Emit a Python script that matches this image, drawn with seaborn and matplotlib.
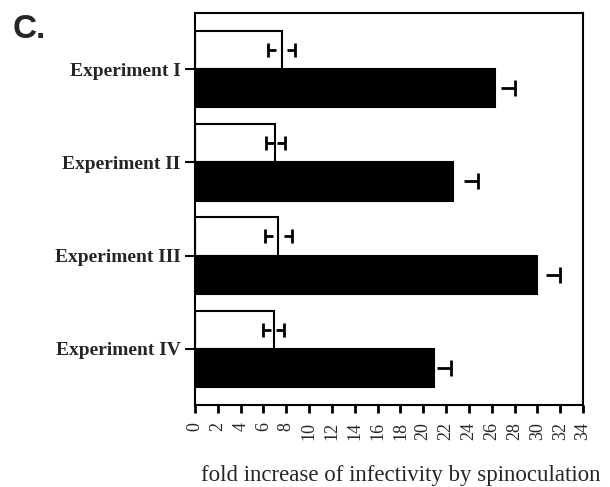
import numpy as np
import pandas as pd
import matplotlib.pyplot as plt
import seaborn as sns

experiments = ['Experiment I', 'Experiment II', 'Experiment III', 'Experiment IV']
conditions = ['control', 'spinoculation']
control = [7.6, 7.05, 7.3, 6.9]
control_err = [1.2, 0.85, 1.2, 0.9]
spin = [26.3, 22.6, 30.0, 20.95]
spin_err = [1.7, 2.2, 2.0, 1.5]
xticks = list(range(0, 35, 2))

sns.set_style("ticks")
plt.rcParams['font.family'] = ['Liberation Serif', 'DejaVu Serif']

df = pd.DataFrame({
    'experiment': experiments * 2,
    'fold': control + spin,
    'condition': [conditions[0]] * 4 + [conditions[1]] * 4,
})

fig = plt.figure(figsize=(6.1, 4.87), dpi=100)
ax = fig.add_axes([0.3197, 0.1684, 0.636, 0.805])

sns.barplot(data=df, y='experiment', x='fold', hue='condition',
            order=experiments, hue_order=conditions,
            palette=['white', 'black'], saturation=1, edgecolor='black',
            linewidth=1.5, width=0.82, errorbar=None, legend=False, ax=ax)

# error bars: caps with short stubs, like the original print
for k, (cont, errs) in enumerate(zip(ax.containers, [control_err, spin_err])):
    for bar, e in zip(cont, errs):
        yc = bar.get_y() + bar.get_height() / 2
        xv = bar.get_width()
        if k == 0:
            ax.plot([xv - e], [yc], marker='|', ms=9.5, mew=2, color='black', zorder=5)
            ax.plot([xv - e], [yc], marker=1, ms=5.5, mew=2, color='black', zorder=5)
            ax.plot([xv + e], [yc], marker='|', ms=9.5, mew=2, color='black', zorder=5)
            ax.plot([xv + e], [yc], marker=0, ms=5.5, mew=2, color='black', zorder=5)
        else:
            ax.plot([xv + e], [yc], marker='|', ms=11, mew=2, color='black', zorder=5)
            ax.plot([xv + e], [yc], marker=0, ms=10, mew=2, color='black', zorder=5)

ax.set_xlim(0, 34)
ax.set_xticks(xticks)
ax.set_xticklabels([str(t) for t in xticks], rotation=90, fontsize=13)
ax.set_ylabel('')
ax.set_xlabel('fold increase of infectivity by spinoculation', fontsize=16.5)
ax.xaxis.set_label_coords(0.531, -0.152)
for lab in ax.get_yticklabels():
    lab.set_fontweight('bold')
    lab.set_fontsize(14)

ax.tick_params(axis='x', direction='out', length=6, width=2, pad=6, color='black')
ax.tick_params(axis='y', direction='out', length=7, width=1.5, pad=3.5, color='black')
for sp in ax.spines.values():
    sp.set_linewidth(1.5)
    sp.set_color('black')

fig.text(13 / 610, 1 - 38 / 487, 'C.', fontsize=24, fontweight='bold',
         family='Liberation Sans', va='baseline', ha='left')

fig.savefig('out.png', dpi=100)
